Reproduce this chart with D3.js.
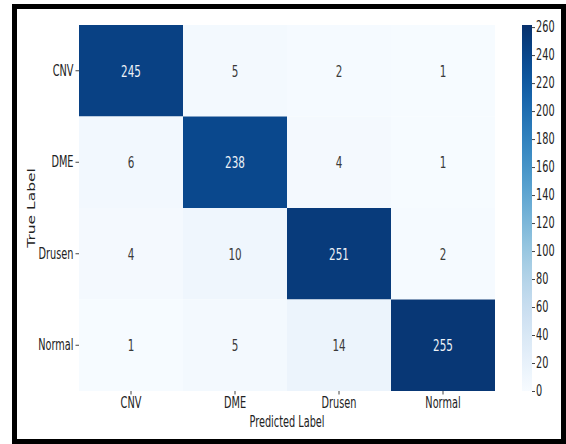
<!DOCTYPE html>
<html>
<head>
<meta charset="utf-8">
<script src="https://cdn.jsdelivr.net/npm/d3@7"></script>
<style>
  html, body { margin: 0; padding: 0; background: #fff; }
  svg { display: block; font-family: "DejaVu Sans", sans-serif; }
</style>
</head>
<body>
<svg id="chart" width="566" height="444"></svg>
<script>
// confusion matrix values
const categories = ["CNV", "DME", "Drusen", "Normal"];
const matrix = [
  [245, 5, 2, 1],
  [6, 238, 4, 1],
  [4, 10, 251, 2],
  [1, 5, 14, 255],
];
const colorbarTicks = [0, 20, 40, 60, 80, 100, 120, 140, 160, 180, 200, 220, 240, 260];

const marginLeft = 79, plotRight = 495, marginTop = 25, plotBottom = 391;
const sx = 0.65; // the picture is squeezed sideways

const svg = d3.select("#chart");

const cells = [];
matrix.forEach((row, i) => row.forEach((v, j) => cells.push({ r: categories[i], c: categories[j], v })));

const xScale = d3.scaleBand().domain(categories).range([marginLeft, plotRight]);
const yScale = d3.scaleBand().domain(categories).range([marginTop, plotBottom]);
const color = d3.scaleSequential(d3.interpolateBlues).domain([0, 262]);

// frame
svg.append("rect")
  .attr("x", 14.5).attr("y", 6.5)
  .attr("width", 549).attr("height", 435)
  .attr("fill", "#fff").attr("stroke", "#000").attr("stroke-width", 5);

// cells
svg.append("g")
  .selectAll("rect")
  .data(cells)
  .enter()
  .append("rect")
  .attr("x", (d) => xScale(d.c))
  .attr("y", (d) => yScale(d.r))
  .attr("width", xScale.bandwidth())
  .attr("height", yScale.bandwidth())
  .attr("fill", (d) => color(d.v));

svg.append("g")
  .selectAll("text")
  .data(cells)
  .enter()
  .append("text")
  .attr("transform", (d) => `translate(${xScale(d.c) + xScale.bandwidth() / 2}, ${yScale(d.r) + yScale.bandwidth() / 2}) scale(${sx},1)`)
  .attr("text-anchor", "middle")
  .attr("dy", "0.36em")
  .attr("font-size", "16px")
  .attr("fill", (d) => (d.v > 130 ? "#eef2f7" : "#3a3a3a"))
  .text((d) => d.v);

// axes
const squeezeTicks = (g) => {
  g.select(".domain").remove();
  g.selectAll("line").attr("stroke", "#444");
  g.selectAll("text")
    .attr("font-size", "15px")
    .attr("font-family", "DejaVu Sans, sans-serif")
    .attr("fill", "#222");
};

const yAxis = svg.append("g")
  .attr("transform", `translate(${marginLeft}, 0)`)
  .call(d3.axisLeft(yScale).tickSize(3.5).tickPadding(2));
squeezeTicks(yAxis);
yAxis.selectAll("text")
  .attr("x", -5.5 / sx)
  .attr("transform", `scale(${sx},1)`);

const xAxis = svg.append("g")
  .attr("transform", `translate(0, ${plotBottom})`)
  .call(d3.axisBottom(xScale).tickSize(3.5).tickPadding(2));
squeezeTicks(xAxis);
xAxis.selectAll("text")
  .attr("y", 6)
  .attr("transform", `scale(${sx},1)`);

svg.append("text")
  .attr("transform", `translate(${(marginLeft + plotRight) / 2}, 427) scale(${sx},1)`)
  .attr("text-anchor", "middle")
  .attr("font-size", "15px")
  .attr("fill", "#222")
  .text("Predicted Label");

svg.append("text")
  .attr("transform", `translate(35, ${(marginTop + plotBottom) / 2}) scale(${sx},1) rotate(-90)`)
  .attr("text-anchor", "middle")
  .attr("font-size", "15.5px")
  .attr("fill", "#222")
  .text("True Label");

// colorbar
const cbX = 522, cbW = 10;
const cbScale = d3.scaleLinear().domain([0, 261.5]).range([plotBottom, marginTop]);
const grad = svg.append("defs").append("linearGradient")
  .attr("id", "cb").attr("x1", 0).attr("y1", 1).attr("x2", 0).attr("y2", 0);
d3.range(0, 1.0001, 0.05).forEach((t) => {
  grad.append("stop").attr("offset", t).attr("stop-color", color(t * 261.5));
});
svg.append("rect")
  .attr("x", cbX).attr("y", marginTop)
  .attr("width", cbW).attr("height", plotBottom - marginTop)
  .attr("fill", "url(#cb)");

const cbAxis = svg.append("g")
  .attr("transform", `translate(${cbX + cbW}, 0)`)
  .call(d3.axisRight(cbScale).tickValues(colorbarTicks).tickSize(3).tickPadding(1));
squeezeTicks(cbAxis);
cbAxis.selectAll("text")
  .attr("x", 4 / sx)
  .attr("transform", `scale(${sx},1)`);
</script>
</body>
</html>
